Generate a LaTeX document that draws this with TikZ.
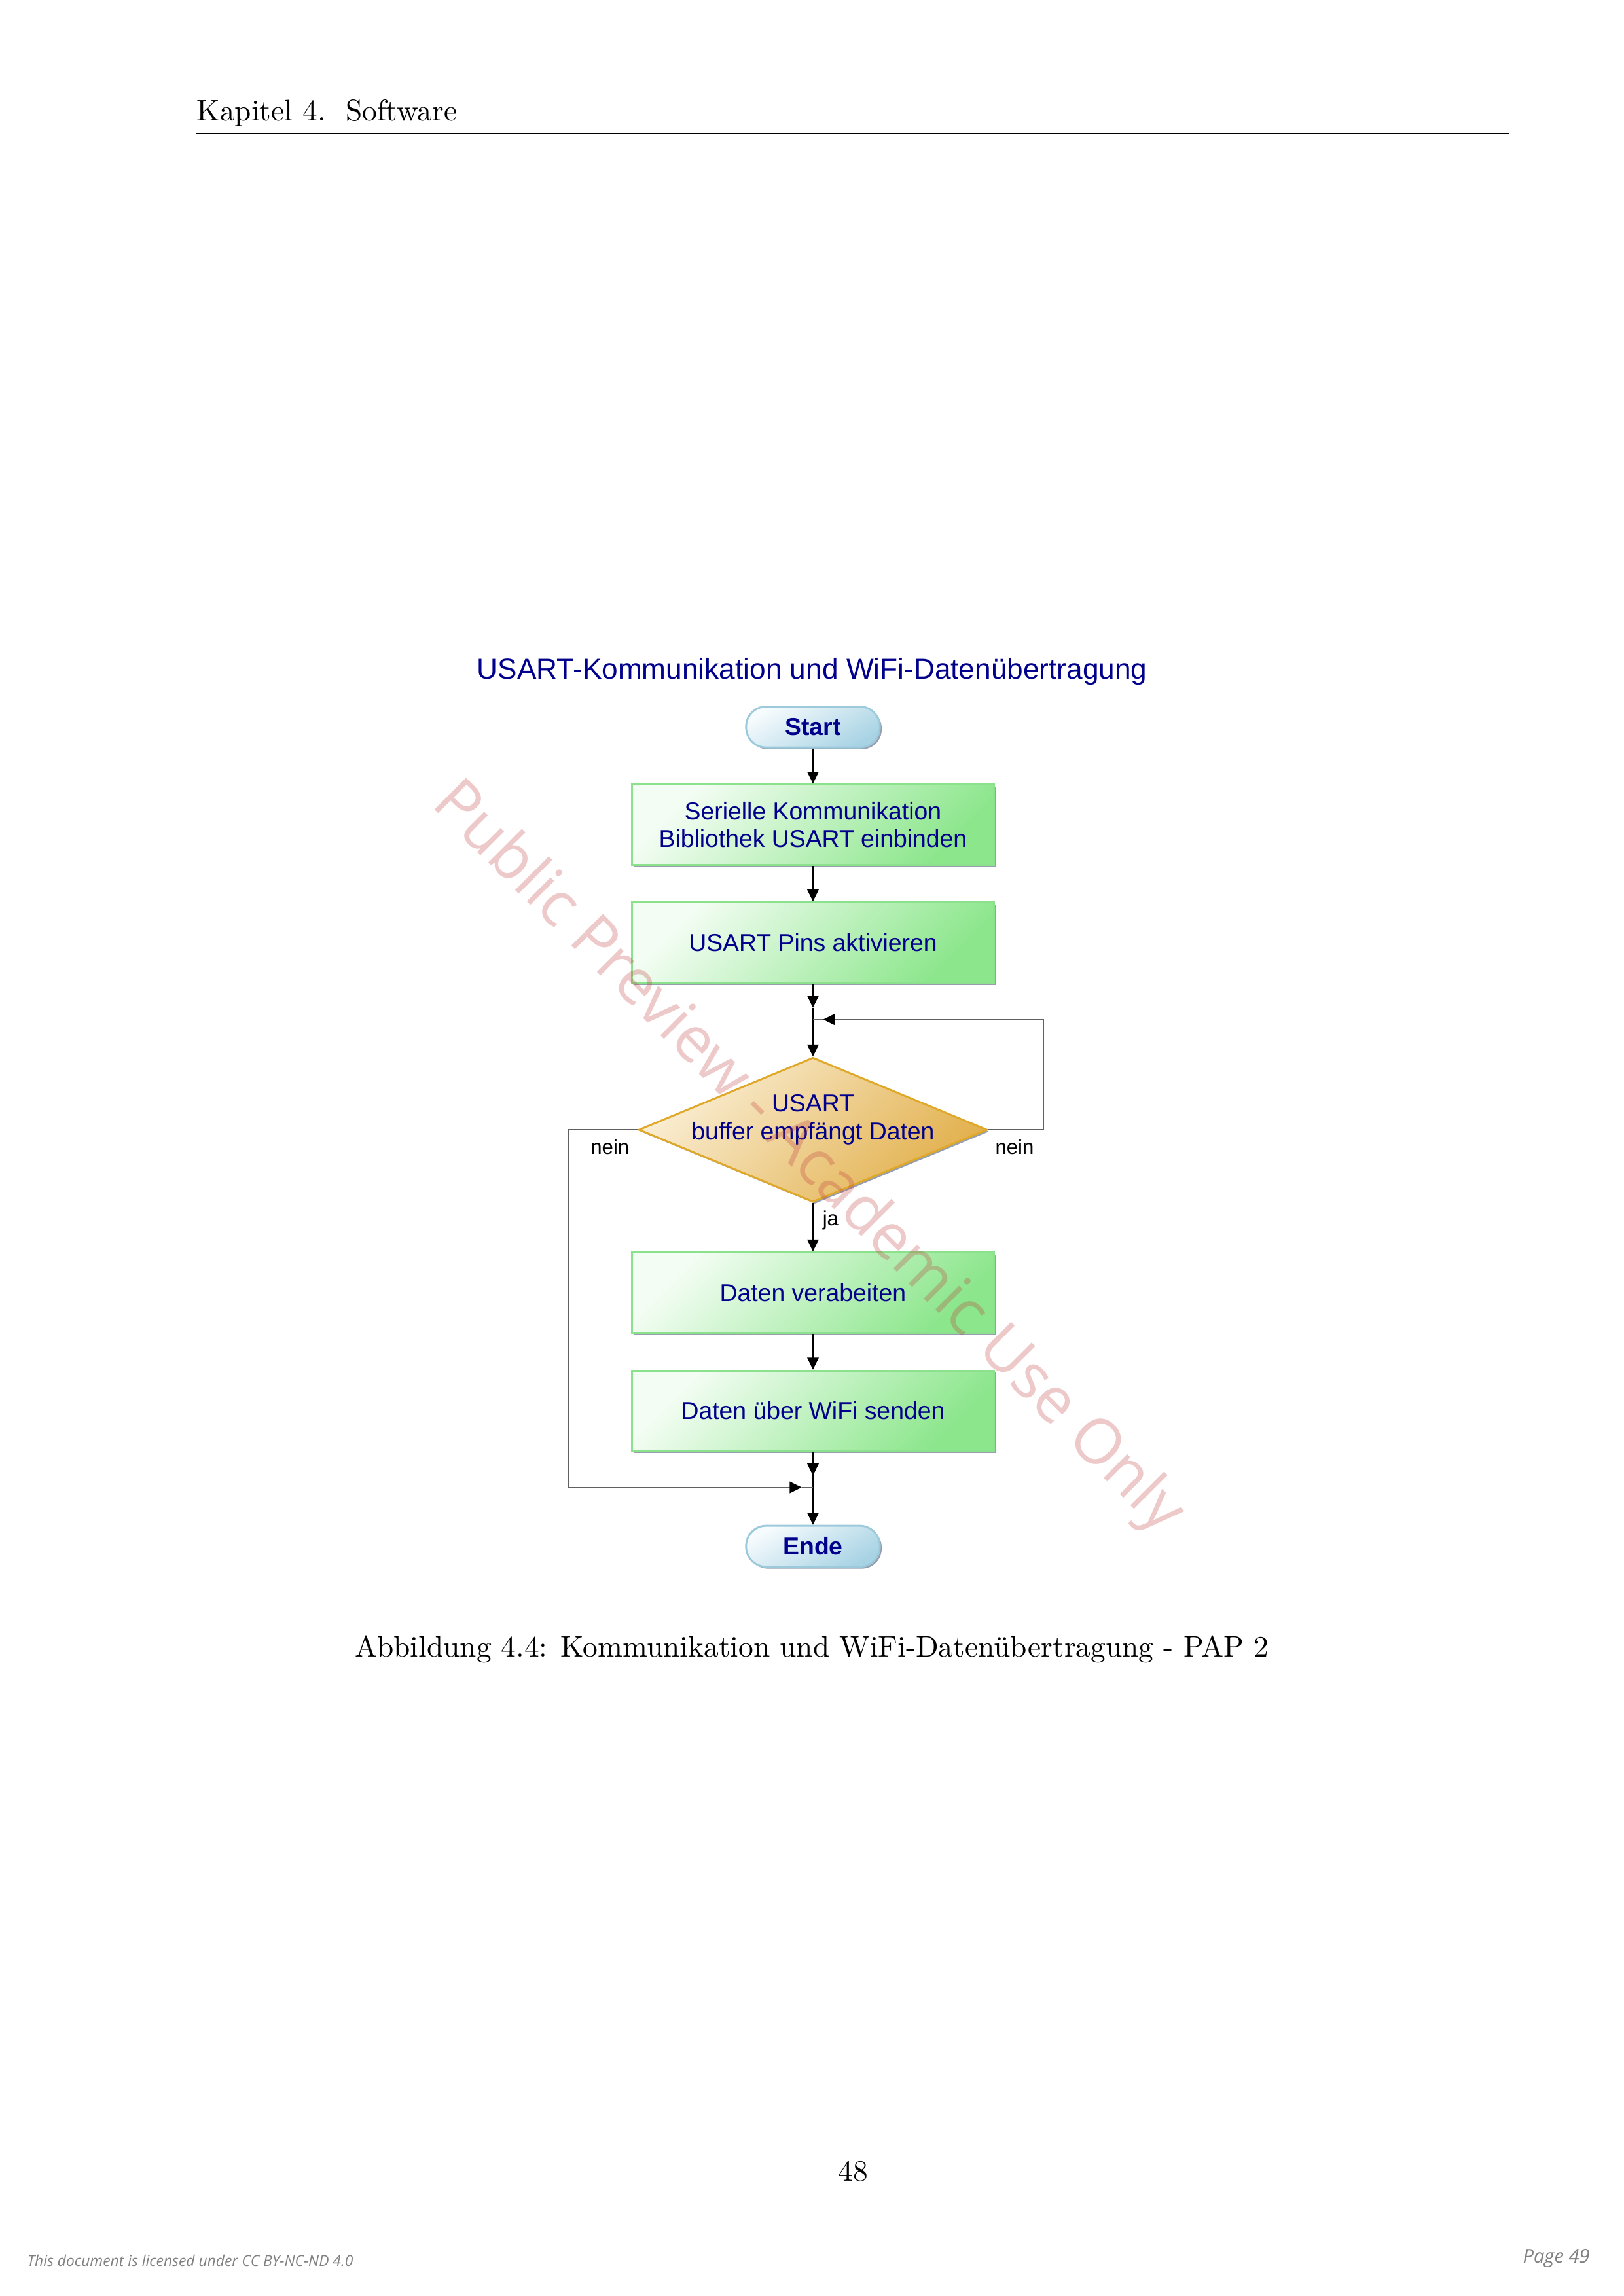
\documentclass[tikz,border=0pt]{standalone}
\usepackage{fontspec}
\usepackage{tikz}
\usetikzlibrary{arrows.meta}
\usetikzlibrary{shapes.geometric}
\usetikzlibrary{shadows}
\newfontfamily\arialfont{Liberation Sans}
\newfontfamily\opensans{Open Sans}
\definecolor{navytext}{RGB}{0,0,140}
\definecolor{boxlight}{RGB}{244,253,244}
\definecolor{boxdark}{RGB}{140,230,140}
\definecolor{boxedge}{RGB}{140,226,140}
\definecolor{declight}{RGB}{250,238,212}
\definecolor{decdark}{RGB}{226,176,76}
\definecolor{decedge}{RGB}{224,168,40}
\definecolor{termlight}{RGB}{246,251,253}
\definecolor{termdark}{RGB}{168,211,228}
\definecolor{termedge}{RGB}{156,202,219}
\definecolor{shadowgray}{RGB}{150,158,175}
\definecolor{wmark}{RGB}{190,60,60}
\definecolor{footgray}{RGB}{128,128,128}
\tikzset{
  pagetext/.style={inner sep=0pt, font=\fontsize{10.95}{13.6}\selectfont},
  footer/.style={inner sep=0pt, text=footgray, font=\opensans\itshape\fontsize{5.5}{7}\selectfont},
  title/.style={inner sep=0pt, text=navytext, font=\arialfont\fontsize{10.65}{12}\selectfont},
  process/.style={rectangle, draw=boxedge, line width=0.7pt, top color=boxlight, bottom color=boxdark, shading angle=45,
    minimum width=4.68cm, minimum height=1.04cm, text=navytext, align=center,
    font=\arialfont\fontsize{9}{10.3}\selectfont,
    drop shadow={shadow xshift=0.7pt, shadow yshift=-0.7pt, fill=shadowgray, opacity=1}},
  terminal/.style={rectangle, rounded corners=0.26cm, draw=termedge, line width=0.7pt, top color=termlight, bottom color=termdark, shading angle=30,
    minimum width=1.73cm, minimum height=0.53cm, inner sep=0pt, text=navytext,
    font=\arialfont\bfseries\fontsize{9}{10}\selectfont,
    drop shadow={shadow xshift=0.7pt, shadow yshift=-0.7pt, fill=shadowgray, opacity=1}},
  decision/.style={diamond, draw=decedge, line width=0.7pt, top color=declight, bottom color=decdark, shading angle=45,
    minimum width=4.51cm, minimum height=1.87cm, inner sep=0pt,
    drop shadow={shadow xshift=0.7pt, shadow yshift=-0.7pt, fill=shadowgray, opacity=1}},
  dectext/.style={inner sep=0pt, text=navytext, align=center, font=\arialfont\fontsize{9}{10.3}\selectfont},
  lbl/.style={text=black, font=\arialfont\fontsize{7.5}{9}\selectfont},
  flow/.style={draw=black, line width=0.45pt, -{Triangle[length=4.4pt, width=4.2pt]}},
  backline/.style={draw=black!62, line width=0.5pt},
  backflow/.style={backline, -{Triangle[length=4.4pt, width=4.2pt, color=black]}},
  wmark/.style={text=wmark, text opacity=0.28, font=\opensans\fontsize{23.1}{27}\selectfont}
}
\begin{document}
\begin{tikzpicture}
    \useasboundingbox (0,0) rectangle (21,-29.7);
    % page head
    \node[pagetext, anchor=base west] (head) at (2.539,-1.566) {Kapitel 4.\ \ Software};
    \draw [line width=0.4pt] (2.539,-1.727) -- (19.527,-1.727);
    \node[title, anchor=base] (title) at (10.504,-8.786) {USART-Kommunikation und WiFi-Datenübertragung};
    % flow chart
    \node[terminal] (start) at (10.515,-9.404) {Start};
    \node[process] (lib) at (10.515,-10.669) {Serielle Kommunikation\\Bibliothek USART einbinden};
    \node[process] (pins) at (10.515,-12.193) {USART Pins aktivieren};
    \coordinate (m1) at (10.515,-13.035);
    \coordinate (j1) at (10.515,-13.187);
    \coordinate (j1a) at (10.648,-13.187);
    \coordinate (r1) at (13.492,-13.187);
    \node[decision] (dec) at (10.515,-14.614) {};
    \node[dectext] (dectxt) at ([yshift=0.13cm]dec.center) {USART\\buffer empfängt Daten};
    \node[process] (proc) at (10.515,-16.721) {Daten verabeiten};
    \node[process] (send) at (10.515,-18.249) {Daten über WiFi senden};
    \coordinate (m2) at (10.515,-19.087);
    \coordinate (j2) at (10.515,-19.240);
    \coordinate (j2a) at (10.369,-19.240);
    \coordinate (l1) at (7.351,-19.240);
    \node[terminal] (ende) at (10.515,-20.001) {Ende};
    \draw[flow] (start) -- (lib);
    \draw[flow] (lib) -- (pins);
    \draw[flow] (pins) -- (m1);
    \draw[flow] (m1) -- (dec);
    \draw[flow] (dec) -- node[lbl, right, pos=0.36] {ja} (proc);
    \draw[flow] (proc) -- (send);
    \draw[flow] (send) -- (m2);
    \draw[flow] (m2) -- (ende);
    % the two nein branches
    \draw[backflow] (dec.east) -| node[lbl, below, pos=0.24] {nein} (r1) -- (j1a);
    \draw[backline] (j1a) -- (j1);
    \draw[backflow] (dec.west) -| node[lbl, below, pos=0.2] {nein} (l1) -- (j2a);
    \draw[backline] (j2a) -- (j2);
    % caption and page foot
    \node[pagetext, anchor=base] (cap) at (10.50,-21.43) {Abbildung 4.4: Kommunikation und WiFi-Datenübertragung - PAP 2};
    \node[pagetext, anchor=base] (pnum) at (11.033,-28.21) {48};
    \node[footer, anchor=base west] (lic) at (0.347,-29.317) {This document is licensed under CC BY-NC-ND 4.0};
    \node[footer, anchor=base east, font=\opensans\itshape\fontsize{7}{8}\selectfont] (pg) at (20.568,-29.27) {Page 49};
    \node[wmark, rotate=-45] (wm) at (10.44,-14.99) {Public Preview - Academic Use Only};
\end{tikzpicture}
\end{document}
